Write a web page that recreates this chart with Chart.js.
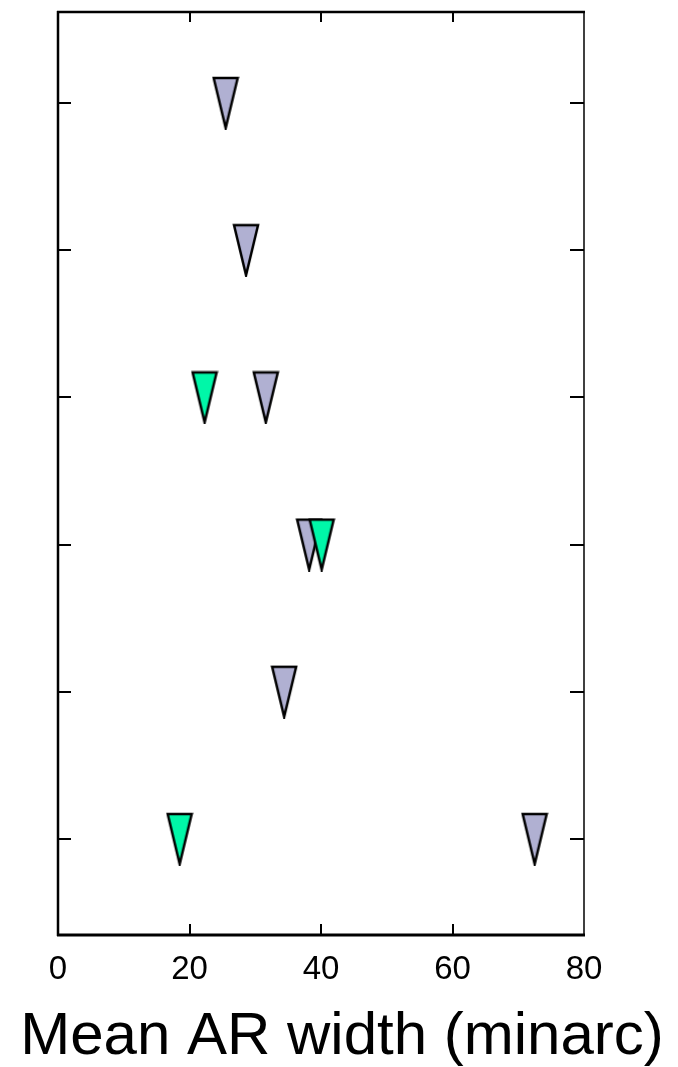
<!DOCTYPE html>
<html>
<head>
<meta charset="utf-8">
<script src="https://cdn.jsdelivr.net/npm/chart.js@4.4.1/dist/chart.umd.min.js"></script>
<style>
html,body{margin:0;padding:0;background:#fff;}
#wrap{width:678px;height:1067px;}
</style>
</head>
<body>
<div id="wrap"><canvas id="c" width="678" height="1067"></canvas></div>
<script>
// ---- data ----
const rowTicks = [1, 2, 3, 4, 5, 6];
const xTicks = [0, 20, 40, 60, 80];
const lavenderRows = [1, 2, 3, 4, 5, 6];
const lavenderWidths = [25.5, 28.6, 31.6, 38.2, 34.4, 72.5];
const greenRows = [3, 4, 6];
const greenWidths = [22.3, 40.1, 18.5];
const xTitle = 'Mean AR width (minarc)';

const LAVENDER = '#b0b0d2';
const GREEN = '#00f7a8';
const FONT = "'Liberation Sans', Arial, sans-serif";

function triangle(fill) {
  const c = document.createElement('canvas');
  c.width = 28; c.height = 54;
  const g = c.getContext('2d');
  g.beginPath();
  g.moveTo(2, 2); g.lineTo(26, 2); g.lineTo(14, 52); g.closePath();
  g.fillStyle = fill; g.fill();
  g.lineWidth = 2.5; g.lineJoin = 'miter'; g.strokeStyle = '#000'; g.stroke();
  return c;
}

const lavPts = lavenderRows.map((r, i) => ({x: lavenderWidths[i], y: r}));
const grnPts = greenRows.map((r, i) => ({x: greenWidths[i], y: r}));

const framePlugin = {
  id: 'frame',
  afterDatasetsDraw(chart) {
    const {ctx, chartArea: a, scales} = chart;
    ctx.save();
    ctx.strokeStyle = '#000';
    ctx.lineCap = 'butt';
    ctx.lineWidth = 2;
    rowTicks.forEach(v => {
      const y = Math.round(scales.y.getPixelForValue(v));
      ctx.beginPath(); ctx.moveTo(a.left, y); ctx.lineTo(a.left + 13, y); ctx.stroke();
      ctx.beginPath(); ctx.moveTo(a.right, y); ctx.lineTo(a.right - 14, y); ctx.stroke();
    });
    xTicks.slice(1, -1).forEach(v => {
      const x = Math.round(scales.x.getPixelForValue(v));
      ctx.beginPath(); ctx.moveTo(x, a.bottom); ctx.lineTo(x, a.bottom - 11); ctx.stroke();
      ctx.beginPath(); ctx.moveTo(x, a.top); ctx.lineTo(x, a.top + 10); ctx.stroke();
    });
    ctx.lineWidth = 2.5;
    ctx.beginPath(); ctx.moveTo(a.left, a.top - 1); ctx.lineTo(a.left, a.bottom + 1); ctx.stroke();
    ctx.lineWidth = 3;
    ctx.beginPath(); ctx.moveTo(a.left - 1, a.bottom); ctx.lineTo(a.right + 1, a.bottom); ctx.stroke();
    ctx.lineWidth = 2.5;
    ctx.beginPath(); ctx.moveTo(a.left - 1, a.top); ctx.lineTo(a.right + 1, a.top); ctx.stroke();
    ctx.lineWidth = 1.5;
    ctx.beginPath(); ctx.moveTo(a.right, a.top); ctx.lineTo(a.right, a.bottom); ctx.stroke();
    // axis title (drawn here so it is not squeezed to the axis width)
    ctx.fillStyle = '#000';
    ctx.font = '60px ' + FONT;
    ctx.textAlign = 'center';
    ctx.textBaseline = 'alphabetic';
    ctx.fillText(xTitle, (a.left + a.right) / 2 + 21, a.bottom + 119);
    ctx.restore();
  }
};

new Chart(document.getElementById('c'), {
  type: 'scatter',
  data: {
    datasets: [
      {label: 'lavender', data: lavPts, pointStyle: triangle(LAVENDER), order: 2},
      {label: 'green', data: grnPts, pointStyle: triangle(GREEN), order: 1}
    ]
  },
  options: {
    responsive: false,
    animation: false,
    layout: {padding: {top: 12, right: 94, left: 0, bottom: 0}},
    plugins: {legend: {display: false}, tooltip: {enabled: false}},
    scales: {
      x: {
        type: 'linear', min: 0, max: 80,
        afterBuildTicks: s => { s.ticks = xTicks.map(v => ({value: v})); },
        afterFit: s => { s.height = 132; },
        grid: {display: false, drawTicks: false},
        border: {display: false},
        ticks: {color: '#000', padding: 15, maxRotation: 0, font: {family: FONT, size: 33}},
        title: {display: false, text: xTitle}
      },
      y: {
        type: 'linear', min: 0.382, max: 6.652, reverse: true,
        afterBuildTicks: s => { s.ticks = rowTicks.map(v => ({value: v})); },
        afterFit: s => { s.width = 58; },
        grid: {display: false, drawTicks: false},
        border: {display: false},
        ticks: {display: false}
      }
    }
  },
  plugins: [framePlugin]
});
</script>
</body>
</html>
